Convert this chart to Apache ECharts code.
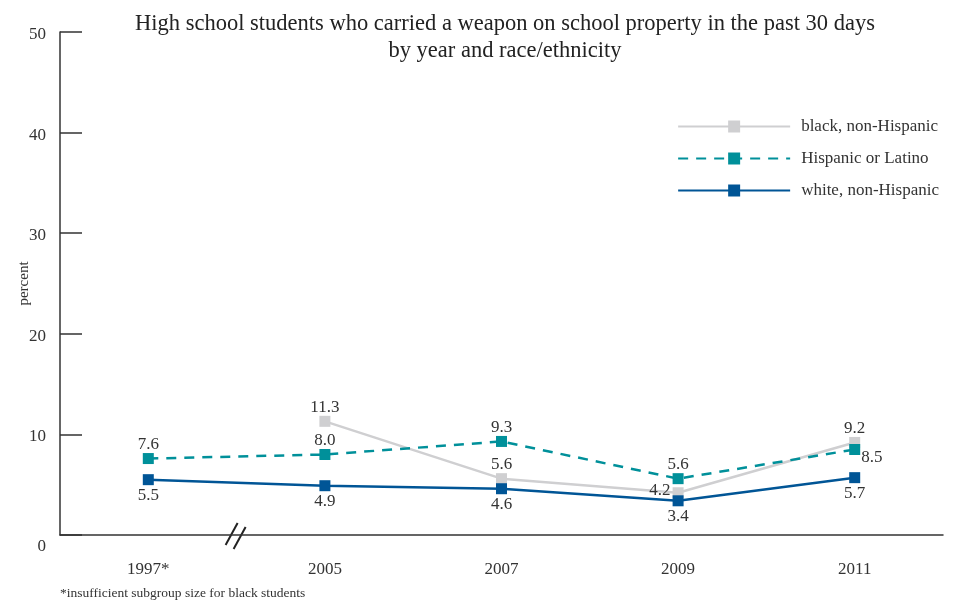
<!DOCTYPE html>
<html>
<head>
<meta charset="utf-8">
<script src="https://cdn.jsdelivr.net/npm/echarts@6/dist/echarts.min.js"></script>
<style>html,body{margin:0;padding:0;background:#fff}#c{width:962px;height:603px}</style>
</head>
<body>
<div id="c"></div>
<script>
const categories = ['1997*', '2005', '2007', '2009', '2011'];
const blackNonHispanic = [null, 11.3, 5.6, 4.2, 9.2];
const hispanicLatino = [7.6, 8.0, 9.3, 5.6, 8.5];
const whiteNonHispanic = [5.5, 4.9, 4.6, 3.4, 5.7];
const yTicks = [0, 10, 20, 30, 40, 50];

const FONT = '"Liberation Serif", "DejaVu Serif", serif';
const chart = echarts.init(document.getElementById('c'));

const DIST = { top: 0, bottom: 2, left: 2, right: 3 };
const lbl = (pos) => ({
  show: true, position: pos, distance: DIST[pos],
  fontFamily: FONT, fontSize: 17, color: '#333',
  formatter: p => p.value == null ? '' : Number(p.value).toFixed(1)
});

const blackLabels = ['top', 'top', 'top', 'left', 'top'];
const blackOffsets = [[0, 0], [0, 0], [0, 0], [0, -2], [0, 0]];
const hispLabels = ['top', 'top', 'top', 'top', 'right'];
const hispOffsets = [[0, 0], [0, 0], [0, 0], [0, 0], [-2, 8]];

const footnote = {
  type: 'text', left: 60, top: 586,
  style: { text: '*insufficient subgroup size for black students', fontFamily: FONT, fontSize: 13.5, fill: '#333' }
};

chart.setOption({
  animation: false,
  title: {
    text: 'High school students who carried a weapon on school property in the past 30 days\nby year and race/ethnicity',
    left: 500, textAlign: 'center', top: 6,
    textStyle: { fontFamily: FONT, fontSize: 22.5, fontWeight: 'normal', color: '#222', lineHeight: 27 }
  },
  legend: {
    orient: 'vertical', right: 18, top: 113,
    itemWidth: 112, itemHeight: 15, itemGap: 15,
    textStyle: { fontFamily: FONT, fontSize: 17, color: '#333', padding: [0, 0, 0, 6] },
    data: ['black, non-Hispanic', 'Hispanic or Latino', 'white, non-Hispanic']
  },
  grid: { left: 60, right: 19, top: 32, bottom: 68, outerBoundsMode: 'none', containLabel: false },
  xAxis: {
    type: 'category', data: categories, boundaryGap: true,
    axisLine: { lineStyle: { color: '#333', width: 1.5 } },
    axisTick: { inside: true, length: 12, alignWithLabel: true, lineStyle: { color: '#333', width: 1.5 } },
    axisLabel: { fontFamily: FONT, fontSize: 17, color: '#333', margin: 26 }
  },
  yAxis: {
    type: 'value', min: yTicks[0], max: yTicks[yTicks.length - 1], interval: 10,
    name: 'percent', nameLocation: 'middle', nameGap: 28, nameRotate: 90, nameMoveOverlap: false,
    nameTextStyle: { fontFamily: FONT, fontSize: 15, color: '#333' },
    axisLine: { show: true, lineStyle: { color: '#333', width: 1.5 } },
    axisTick: { show: true, inside: true, length: 22, lineStyle: { color: '#333', width: 1.5 } },
    axisLabel: {
      fontFamily: FONT, fontSize: 17, color: '#333', margin: 14, padding: [5, 0, 0, 0],
      formatter: v => v === 0 ? '{z|0}' : String(v),
      rich: { z: { fontFamily: FONT, fontSize: 17, color: '#333', padding: [18, 0, 0, 0] } }
    },
    splitLine: { show: false }
  },
  series: [
    {
      name: 'black, non-Hispanic', type: 'line',
      data: blackNonHispanic.map((v, i) => ({ value: v, label: Object.assign(lbl(blackLabels[i]), { offset: blackOffsets[i] }) })),
      symbol: 'rect', symbolSize: 11, connectNulls: false,
      lineStyle: { color: '#cfcfd1', width: 2.5 },
      itemStyle: { color: '#cfcfd1' }, z: 2
    },
    {
      name: 'Hispanic or Latino', type: 'line',
      data: hispanicLatino.map((v, i) => ({ value: v, label: Object.assign(lbl(hispLabels[i]), { offset: hispOffsets[i] }) })),
      symbol: 'rect', symbolSize: 11,
      lineStyle: { color: '#00909a', width: 2.5, type: [10, 8] },
      itemStyle: { color: '#00909a' }, z: 3
    },
    {
      name: 'white, non-Hispanic', type: 'line',
      data: whiteNonHispanic.map(v => ({ value: v, label: lbl('bottom') })),
      symbol: 'rect', symbolSize: 11,
      lineStyle: { color: '#005596', width: 2.5 },
      itemStyle: { color: '#005596' }, z: 4
    }
  ],
  graphic: [footnote]
});

// axis break mark between first two categories
const p0 = chart.convertToPixel({ xAxisIndex: 0, yAxisIndex: 0 }, [0, 0]);
const p1 = chart.convertToPixel({ xAxisIndex: 0, yAxisIndex: 0 }, [1, 0]);
const bx = p0[0] + (p1[0] - p0[0]) / 2 + 3, by = p0[1];
chart.setOption({
  graphic: [
    footnote,
    { type: 'line', shape: { x1: bx - 14, y1: by + 10, x2: bx - 2, y2: by - 12 }, style: { stroke: '#222', lineWidth: 2 } },
    { type: 'line', shape: { x1: bx - 6, y1: by + 14, x2: bx + 6, y2: by - 8 }, style: { stroke: '#222', lineWidth: 2 } }
  ]
});
</script>
</body>
</html>
